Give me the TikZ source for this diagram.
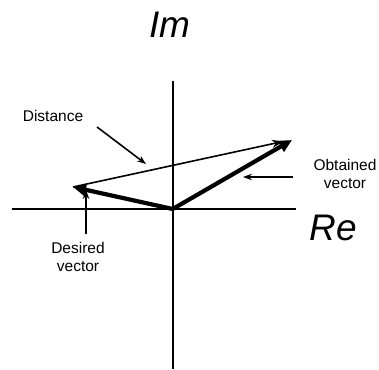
\documentclass[tikz,border=0pt]{standalone}
\usepackage{fontspec}
\setmainfont{Liberation Sans}
\usetikzlibrary{arrows.meta}
\begin{document}
\begin{tikzpicture}[x=1pt,y=-1pt,
  axis/.style={line width=1.9pt},
  vec/.style={line width=4.2pt,-{Triangle[length=13pt,width=12pt]}},
  dist/.style={line width=1.6pt,-{Stealth[length=11pt,width=8pt]}},
  ptr/.style={line width=1.6pt,-{Stealth[length=9pt,width=6.5pt]}},
  lbl/.style={font=\fontsize{15.5}{18}\selectfont,align=center,inner sep=0pt},
  axlbl/.style={font=\fontsize{37}{40}\selectfont\itshape,inner sep=0pt}]
\useasboundingbox (0,0) rectangle (379,369);
\coordinate (O) at (172.7,209);
\coordinate (ytop) at (172.7,81);
\coordinate (ybot) at (172.7,369);
\coordinate (xl) at (11.7,209);
\coordinate (xr) at (296,209);
\coordinate (D) at (73,187);
\coordinate (B) at (292,140);
\coordinate (Bd) at (283,141.5);
\draw[axis] (ytop) -- (ybot);
\draw[axis] (xl) -- (xr);
\draw[vec] (O) -- (D);
\draw[vec] (O) -- (B);
\draw[dist] (D) -- (Bd);
\node[axlbl] (im) at (170,25) {Im};
\node[axlbl] (re) at (333,228) {Re};
\node[lbl] (dtxt) at (53,116) {Distance};
\node[lbl] (otxt) at (345,174) {Obtained\\vector};
\node[lbl] (destxt) at (78,257) {Desired\\vector};
\coordinate (dp1) at (97,127);
\coordinate (dp2) at (146,164);
\coordinate (op1) at (293,177);
\coordinate (op2) at (243,177);
\coordinate (sp1) at (86,234);
\coordinate (sp2) at (86,190);
\draw[ptr] (dp1) -- (dp2);
\draw[ptr] (op1) -- (op2);
\draw[ptr] (sp1) -- (sp2);
\end{tikzpicture}
\end{document}
